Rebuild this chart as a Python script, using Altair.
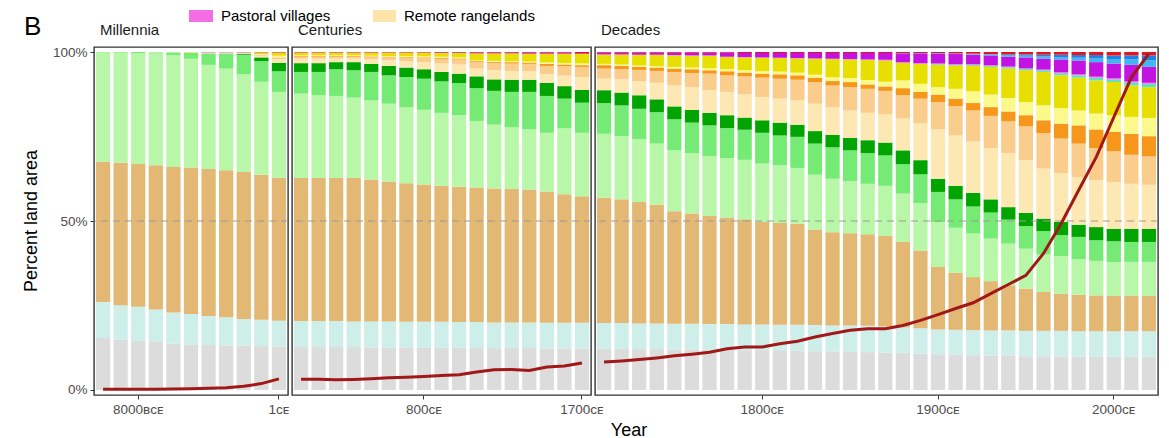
import altair as alt
import pandas as pd

FONT = "Liberation Sans"
BCE = "\u0299\u1d04\u1d07"
CE = "\u1d04\u1d07"

# ---------------- categories ----------------
mill_years = [10000, 9000, 8000, 7000, 6000, 5000, 4000, 3000, 2000, 1000]
mill_labels = [f"{y}{BCE}" for y in mill_years] + [f"1{CE}"]
cent_labels = [f"{y}{CE}" for y in range(100, 1800, 100)]
dec_labels = [f"{y}{CE}" for y in range(1710, 2030, 10)]

layers = ["Ice, uninhabited", "Wild drylands", "Wild woodlands", "Remote woodlands",
          "Populated woodlands", "Residential woodlands", "Remote rangelands",
          "Populated rangelands", "Residential rangelands", "Remote croplands",
          "Populated croplands", "Residential croplands", "Pastoral villages",
          "Rainfed villages", "Irrigated villages", "Rice villages", "Dense settlements"]
colors = ["#dcdcdc", "#cdeee9", "#e2b874", "#b8f7a8", "#75ea75", "#02a402", "#fde7b3",
          "#fbcd8d", "#f6971b", "#fcf98c", "#e6df00", "#5fe0bf", "#f46de4",
          "#c213e3", "#42b6ee", "#1e82e6", "#e8141c"]

# ---------------- cumulative top of each layer (% land area) ----------------
# order: 11 millennia bars, 17 century bars, 32 decade bars
top_ice = ([15.4, 14.9, 14.5, 14.2, 13.7, 13.5, 13.3, 13.2, 13.1, 13.0, 12.9]
           + [12.7, 12.7, 12.7, 12.7, 12.6, 12.6, 12.6, 12.5, 12.5, 12.5, 12.4, 12.4, 12.4, 12.4, 12.3, 12.3, 12.3]
           + [12.2, 12.2, 12.1, 12.1, 12.0, 12.0, 11.9, 11.9, 11.8, 11.8, 11.8, 11.6, 11.5, 11.4, 11.3, 11.2,
              11.1, 11.0, 10.8, 10.6, 10.5, 10.3, 10.2, 10.1, 10.0, 10.0, 9.9, 9.9, 9.8, 9.8, 9.8, 9.8])
top_wild_dry = ([26.0, 25.1, 24.6, 23.8, 22.9, 22.5, 21.9, 21.5, 21.0, 20.8, 20.5]
                + [20.4, 20.4, 20.4, 20.3, 20.3, 20.3, 20.2, 20.2, 20.2, 20.1, 20.1, 20.0, 20.0, 20.0, 19.9, 19.9, 19.9]
                + [19.8, 19.8, 19.7, 19.7, 19.6, 19.6, 19.5, 19.5, 19.4, 19.4, 19.3, 19.3, 19.2, 19.1, 19.1, 19.0,
                   18.8, 18.6, 18.3, 17.9, 17.8, 17.7, 17.6, 17.6, 17.5, 17.5, 17.5, 17.4, 17.4, 17.4, 17.4, 17.4])
top_wild_wood = ([67.5, 67.2, 66.9, 66.5, 66.0, 65.8, 65.4, 65.0, 64.5, 63.7, 62.8]
                 + [62.7, 62.7, 62.7, 62.7, 62.3, 61.7, 61.2, 60.8, 60.4, 60.1, 59.9, 59.6, 59.5, 59.3, 58.7, 57.9, 57.3]
                 + [56.9, 56.4, 55.6, 54.8, 52.9, 52.2, 51.5, 51.0, 50.5, 49.7, 49.4, 49.2, 47.5, 46.7, 46.4, 46.1,
                    45.6, 43.8, 41.3, 36.4, 34.7, 33.4, 32.2, 31.0, 30.0, 29.0, 28.5, 28.2, 28.0, 27.8, 27.8, 27.8])
top_remote_wood = ([99.9, 99.8, 99.7, 99.6, 99.0, 98.0, 96.2, 95.1, 93.4, 91.2, 88.2]
                   + [87.7, 87.2, 87.0, 86.5, 85.7, 84.7, 83.7, 82.9, 82.0, 81.3, 79.6, 78.5, 77.8, 77.1, 76.1, 77.5, 76.1]
                   + [75.8, 75.1, 74.2, 72.9, 70.9, 70.1, 69.2, 68.6, 68.1, 67.0, 66.5, 65.7, 63.7, 62.5, 61.8, 61.0,
                      60.4, 58.1, 55.3, 49.7, 48.0, 46.3, 44.8, 43.3, 41.8, 40.1, 39.6, 38.7, 38.2, 37.9, 37.9, 37.9])
top_pop_wood = ([100, 100, 100, 99.9, 99.9, 99.8, 99.6, 99.6, 99.2, 97.3, 94.3]
                + [94.1, 94.1, 94.9, 94.6, 94.1, 93.1, 92.6, 92.1, 91.3, 90.8, 89.3, 88.5, 88.2, 88.2, 87.0, 86.2, 85.0]
                + [84.9, 84.2, 83.2, 82.2, 80.1, 79.1, 78.3, 77.5, 77.0, 76.1, 75.3, 74.9, 72.9, 71.8, 70.9, 70.1,
                   69.4, 66.8, 63.8, 58.6, 56.4, 54.3, 52.5, 50.4, 48.5, 47.0, 45.8, 45.3, 44.3, 44.0, 43.8, 43.8])
top_res_wood = ([100, 100, 100, 99.9, 99.9, 99.8, 99.6, 99.6, 99.5, 98.4, 96.8]
                + [96.7, 96.7, 97.0, 97.0, 96.5, 95.9, 95.4, 94.9, 94.1, 93.6, 92.8, 91.9, 91.8, 91.8, 90.9, 89.9, 88.8]
                + [88.7, 88.0, 87.2, 86.0, 83.9, 82.9, 82.0, 81.3, 80.6, 79.8, 79.1, 78.5, 76.6, 75.5, 74.6, 73.9,
                   73.2, 70.9, 68.0, 62.5, 60.4, 58.3, 56.4, 54.1, 52.4, 50.7, 49.7, 48.9, 48.2, 47.7, 47.7, 47.7])
top_remote_range = ([100, 100, 100, 100, 100, 99.9, 99.8, 99.8, 99.7, 98.9, 97.9]
                    + [98.0, 98.0, 98.1, 98.1, 97.9, 97.6, 97.3, 97.0, 96.6, 96.3, 95.1, 94.6, 94.4, 94.3, 93.5, 93.0, 92.6]
                    + [92.1, 91.9, 91.3, 90.9, 90.1, 89.6, 88.7, 88.2, 87.5, 86.7, 86.2, 85.7, 84.7, 83.7, 82.7, 82.0,
                       81.5, 80.3, 79.0, 77.1, 75.3, 73.6, 71.6, 70.1, 68.0, 65.5, 64.2, 63.0, 62.0, 61.5, 61.0, 60.7])
top_pop_range = ([100, 100, 100, 100, 100, 99.9, 99.8, 99.8, 99.7, 99.1, 98.3]
                 + [98.6, 98.6, 98.6, 98.6, 98.5, 98.4, 98.3, 98.2, 98.0, 97.8, 97.0, 96.8, 96.6, 96.5, 95.9, 95.8, 95.6]
                 + [95.1, 94.9, 94.7, 94.4, 94.1, 93.8, 93.6, 93.1, 92.8, 92.4, 92.1, 91.8, 91.1, 90.1, 89.6, 89.1,
                    88.5, 87.2, 86.2, 85.2, 84.0, 82.7, 81.1, 79.5, 78.0, 76.0, 74.4, 72.9, 71.6, 70.6, 69.6, 69.1])
top_res_range = ([100, 100, 100, 100, 100, 99.9, 99.8, 99.8, 99.7, 99.2, 98.4]
                 + [98.8, 98.8, 98.8, 98.8, 98.7, 98.6, 98.5, 98.4, 98.3, 98.1, 97.3, 97.1, 97.0, 96.9, 96.5, 96.3, 96.1]
                 + [96.1, 95.9, 95.6, 95.4, 95.1, 94.9, 94.6, 94.3, 93.9, 93.6, 93.4, 93.1, 92.4, 91.4, 91.1, 90.4,
                    89.8, 89.3, 88.2, 87.4, 86.2, 84.9, 83.7, 82.4, 81.3, 79.8, 78.8, 78.3, 77.1, 76.3, 75.8, 75.1])
top_remote_crop = ([100, 100, 100, 100, 100, 99.9, 99.9, 99.9, 99.8, 99.4, 98.9]
                   + [99.0, 99.0, 99.0, 99.0, 98.9, 98.8, 98.8, 98.7, 98.6, 98.4, 97.6, 97.4, 97.3, 97.2, 96.9, 96.7, 96.6]
                   + [96.5, 96.3, 96.0, 95.8, 95.6, 95.4, 95.2, 94.9, 94.6, 94.3, 94.2, 93.9, 93.3, 92.5, 92.3, 91.7,
                      91.2, 91.6, 90.6, 89.6, 89.1, 88.4, 87.4, 86.4, 85.2, 84.2, 83.4, 82.7, 81.8, 81.3, 80.8, 80.5])
top_pop_crop = ([100, 100, 100, 100, 100, 100, 99.9, 99.9, 99.9, 99.9, 99.8]
                + [99.8, 99.8, 99.8, 99.8, 99.8, 99.8, 99.8, 99.8, 99.7, 99.7, 99.6, 99.6, 99.6, 99.5, 99.5, 99.5, 99.4]
                + [99.2, 99.2, 99.1, 99.1, 99.0, 98.9, 98.9, 98.5, 98.4, 98.3, 98.2, 98.1, 98.0, 97.9, 97.8, 97.7,
                   97.5, 96.8, 96.5, 96.2, 96.0, 95.9, 95.6, 95.1, 94.6, 94.1, 93.1, 92.4, 91.6, 91.1, 90.1, 89.6])
top_res_crop = ([100, 100, 100, 100, 100, 100, 99.9, 99.9, 99.9, 99.9, 99.8]
                + [99.8, 99.8, 99.8, 99.8, 99.8, 99.8, 99.8, 99.8, 99.7, 99.7, 99.6, 99.6, 99.6, 99.5, 99.5, 99.5, 99.4]
                + [99.2, 99.2, 99.1, 99.1, 99.0, 98.9, 98.9, 98.5, 98.4, 98.3, 98.2, 98.1, 98.0, 97.9, 97.8, 97.7,
                   97.5, 96.8, 96.5, 96.4, 96.2, 96.2, 95.9, 95.5, 95.0, 94.6, 93.7, 93.1, 92.4, 91.9, 91.0, 90.6])
top_pastoral = ([100, 100, 100, 100, 100, 100, 99.9, 99.9, 99.9, 99.9, 99.8]
                + [99.8, 99.8, 99.8, 99.8, 99.8, 99.8, 99.8, 99.8, 99.7, 99.7, 99.6, 99.6, 99.6, 99.5, 99.5, 99.5, 99.4]
                + [99.3, 99.3, 99.2, 99.2, 99.1, 99.0, 99.0, 98.6, 98.5, 98.4, 98.3, 98.2, 98.1, 98.0, 97.9, 97.8,
                   97.7, 97.0, 96.7, 96.6, 96.4, 96.4, 96.1, 95.7, 95.2, 94.8, 94.0, 93.4, 92.7, 92.2, 91.3, 90.9])
top_rainfed = ([100, 100, 100, 100, 100, 100, 100, 100, 100, 100, 99.9]
               + [99.9, 99.9, 99.9, 99.9, 99.9, 99.9, 99.9, 99.9, 99.9, 99.9, 99.8, 99.8, 99.8, 99.8, 99.8, 99.8, 99.6]
               + [99.8, 99.8, 99.8, 99.8, 99.8, 99.8, 99.8, 99.8, 99.7, 99.7, 99.7, 99.7, 99.7, 99.7, 99.7, 99.7,
                  99.7, 99.6, 99.6, 99.5, 99.4, 99.2, 99.0, 98.6, 98.4, 98.0, 97.8, 97.5, 97.0, 96.6, 96.2, 95.6])
top_irrigated = ([100, 100, 100, 100, 100, 100, 100, 100, 100, 100, 99.9]
                 + [99.9, 99.9, 99.9, 99.9, 99.9, 99.9, 99.9, 99.9, 99.9, 99.9, 99.8, 99.8, 99.8, 99.8, 99.8, 99.8, 99.6]
                 + [99.8, 99.8, 99.8, 99.8, 99.8, 99.8, 99.8, 99.8, 99.7, 99.7, 99.7, 99.7, 99.7, 99.7, 99.7, 99.7,
                    99.7, 99.65, 99.65, 99.6, 99.5, 99.4, 99.3, 99.1, 98.9, 98.7, 98.5, 98.3, 98.1, 97.9, 97.8, 97.6])
top_rice = ([100, 100, 100, 100, 100, 100, 100, 100, 100, 100, 99.9]
            + [99.9, 99.9, 99.9, 99.9, 99.9, 99.9, 99.9, 99.9, 99.9, 99.9, 99.8, 99.8, 99.8, 99.8, 99.8, 99.8, 99.6]
            + [99.8, 99.8, 99.8, 99.8, 99.8, 99.8, 99.8, 99.8, 99.7, 99.7, 99.7, 99.7, 99.7, 99.7, 99.7, 99.7,
               99.7, 99.7, 99.7, 99.7, 99.6, 99.5, 99.4, 99.3, 99.3, 99.2, 99.2, 99.1, 99.1, 99.0, 99.0, 99.0])
top_dense = [100] * 60

# red line (% of land used)
line_mill = [0.2, 0.2, 0.2, 0.25, 0.3, 0.4, 0.5, 0.7, 1.1, 1.9, 3.3]
line_cent = [3.2, 3.2, 3.0, 3.1, 3.3, 3.6, 3.8, 4.0, 4.3, 4.5, 5.3, 6.0, 6.1, 5.8, 6.8, 7.1, 8.0]
line_dec = [8.3, 8.6, 9.0, 9.5, 10.1, 10.6, 11.2, 12.2, 12.7, 12.7, 13.7, 14.4, 15.7, 16.7, 17.7, 18.1,
            18.1, 19.1, 20.6, 22.3, 24.1, 25.8, 28.5, 31.2, 33.9, 40.4, 49.2, 59.1, 68.9, 80.7, 92.5, 99.5]

tops = [top_ice, top_wild_dry, top_wild_wood, top_remote_wood, top_pop_wood, top_res_wood,
        top_remote_range, top_pop_range, top_res_range, top_remote_crop, top_pop_crop,
        top_res_crop, top_pastoral, top_rainfed, top_irrigated, top_rice, top_dense]

all_labels = mill_labels + cent_labels + dec_labels
panel_of = ["m"] * len(mill_labels) + ["c"] * len(cent_labels) + ["d"] * len(dec_labels)

rows = []
for i, lab in enumerate(all_labels):
    prev = 0.0
    for name, arr in zip(layers, tops):
        hi = arr[i]
        if hi - prev > 0.001:
            rows.append({"panel": panel_of[i], "label": lab, "layer": name, "lo": prev, "hi": hi})
        prev = max(prev, hi)
bars_df = pd.DataFrame(rows)

line_df = pd.DataFrame({"panel": panel_of, "label": all_labels, "v": line_mill + line_cent + line_dec})

ys = alt.Scale(domain=[-1.48, 101.48], nice=False, zero=False)
color_scale = alt.Scale(domain=layers, range=colors)
H = 348


def one(text_df_value):
    return pd.DataFrame({"t": [text_df_value]})


def make_panel(key, labels, width, ticks, strip, show_y, extras):
    xaxis = alt.Axis(values=ticks, labelAngle=0, title=None, domain=False, grid=False,
                     tickColor="#333333", tickSize=4, labelPadding=3, labelFontSize=13.5,
                     labelColor="#4d4d4d", labelFont=FONT)
    x = alt.X("label:N", sort=labels, axis=xaxis,
              scale=alt.Scale(paddingInner=0.19, paddingOuter=0.11))
    if show_y:
        yaxis = alt.Axis(values=[0, 50, 100], labelExpr="datum.value + '%'", title=None,
                         domain=False, grid=False, tickColor="#333333", tickSize=4,
                         labelPadding=3, labelFontSize=13.5, labelColor="#4d4d4d", labelFont=FONT)
    else:
        yaxis = None
    bars = alt.Chart(bars_df[bars_df.panel == key]).mark_bar().encode(
        x=x,
        y=alt.Y("lo:Q", scale=ys, axis=yaxis),
        y2="hi:Q",
        color=alt.Color("layer:N", scale=color_scale, legend=None),
    )
    dash = alt.Chart(pd.DataFrame({"v": [50]})).mark_rule(
        color="#9a9a9a", strokeDash=[7, 5], strokeWidth=1
    ).encode(y=alt.Y("v:Q", scale=ys, axis=yaxis))
    ln = alt.Chart(line_df[line_df.panel == key]).mark_line(
        color="#a01818", strokeWidth=3
    ).encode(x=x, y=alt.Y("v:Q", scale=ys, axis=yaxis))
    strip_t = alt.Chart(one(strip)).mark_text(
        align="left", baseline="middle", fontSize=15, font=FONT, color="#1a1a1a"
    ).encode(text="t:N", x=alt.value(6), y=alt.value(-17))
    return alt.layer(bars, dash, ln, strip_t, *extras).properties(width=width, height=H)


# extra annotation marks (legend fragment, panel letter, axis titles)
b_letter = alt.Chart(one("B")).mark_text(
    align="left", baseline="alphabetic", fontSize=26, font=FONT, color="#000000"
).encode(text="t:N", x=alt.value(-70), y=alt.value(-12))
y_title = alt.Chart(one("Percent land area")).mark_text(
    align="center", baseline="middle", fontSize=18, font=FONT, color="#000000", angle=270
).encode(text="t:N", x=alt.value(-62), y=alt.value(174))
sw1 = alt.Chart(one("a")).mark_rect(color="#f46de4").encode(
    x=alt.value(95), x2=alt.value(119), y=alt.value(-37), y2=alt.value(-25))
sw2 = alt.Chart(one("a")).mark_rect(color="#fde4a8").encode(
    x=alt.value(279), x2=alt.value(302), y=alt.value(-37), y2=alt.value(-25))
lg1 = alt.Chart(one("Pastoral villages")).mark_text(
    align="left", baseline="middle", fontSize=15, font=FONT, color="#000000"
).encode(text="t:N", x=alt.value(127), y=alt.value(-31))
lg2 = alt.Chart(one("Remote rangelands")).mark_text(
    align="left", baseline="middle", fontSize=15, font=FONT, color="#000000"
).encode(text="t:N", x=alt.value(310), y=alt.value(-31))
x_title = alt.Chart(one("Year")).mark_text(
    align="center", baseline="middle", fontSize=18, font=FONT, color="#000000"
).encode(text="t:N", x=alt.value(34), y=alt.value(384))

p1 = make_panel("m", mill_labels, 194, [mill_labels[2], mill_labels[-1]], "Millennia", True,
                [b_letter, y_title, sw1, sw2, lg1, lg2])
p2 = make_panel("c", cent_labels, 299, [cent_labels[7], cent_labels[-1]], "Centuries", False, [])
p3 = make_panel("d", dec_labels, 563, [dec_labels[9], dec_labels[19], dec_labels[29]], "Decades", False,
                [x_title])

chart = alt.hconcat(p1, p2, p3, spacing=4, bounds="flush").properties(
    padding={"left": 14, "top": 0, "right": 0, "bottom": 0},
    background="#ffffff",
).configure_view(stroke="#333333", strokeWidth=1.4)

chart.save("out.html", embed_options={"renderer": "svg", "actions": False})
